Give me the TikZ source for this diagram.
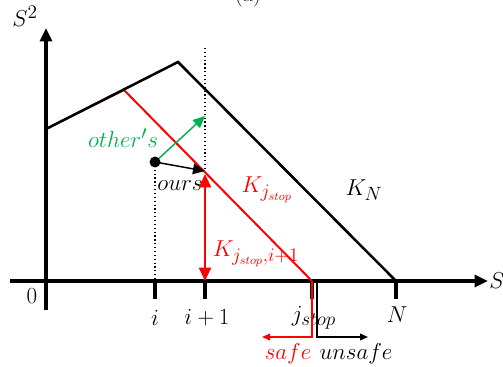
\documentclass[tikz,border=0pt]{standalone}
\usetikzlibrary{arrows.meta}
\definecolor{myred}{RGB}{255,0,0}
\definecolor{mygreen}{RGB}{0,176,80}
\begin{document}
\begin{tikzpicture}[x=0.75pt,y=-0.75pt,
  lbl/.style={font=\fontsize{19}{22}\selectfont, inner sep=1pt},
  axis/.style={line width=2.4pt, -{Triangle[length=10pt,width=9pt]}},
  tick/.style={line width=2.4pt},
  kline/.style={line width=1.9pt, line join=miter},
  rline/.style={myred, line width=1.5pt},
  guide/.style={dotted, line width=0.9pt},
  vec/.style={line width=1.1pt, -{Triangle[length=9pt,width=8pt]}}]
\useasboundingbox (0,0) rectangle (503,367);
% points
\coordinate (O) at (46,281);
\coordinate (Ytop) at (46,28);
\coordinate (Ybot) at (46,310);
\coordinate (Xl) at (10,281);
\coordinate (Xr) at (488,281);
\coordinate (A) at (46,129);
\coordinate (P) at (178,62);
\coordinate (NN) at (396,281);
\coordinate (R) at (124,90);
\coordinate (J) at (312,281);
\coordinate (D) at (155,162);
\coordinate (G) at (205,116);
\coordinate (Q) at (205,171);
\coordinate (Qu) at (205,174);
\coordinate (I) at (155,281);
\coordinate (I1) at (205,281);
\coordinate (Dtop) at (205,48);
% title (cut off as in the reference)
\node[font=\fontsize{17}{20}\selectfont] (title) at (248,-4) {(a)};
% axes
\draw[axis] (Ybot) -- (Ytop);
\draw[axis] (Xl) -- (Xr);
\node[lbl] (s2) at (25,16) {$S^2$};
\node[lbl] (s) at (497,281) {$S$};
\node[lbl] (zero) at (32,296) {$0$};
% ticks
\draw[tick] (I) -- ++(0,18);
\draw[tick] (I1) -- ++(0,18);
\draw[tick] (J) -- ++(0,18);
\draw[tick] (NN) -- ++(0,18);
\node[lbl] (li) at (155,318) {$i$};
\node[lbl] (li1) at (207,318) {$i+1$};
\node[lbl] (lj) at (314,318) {$j_{stop}$};
\node[lbl] (lN) at (397,315) {$N$};
% dotted guides
\draw[guide] (Dtop) -- (I1);
\draw[guide] (D) -- (I);
% curves
\draw[rline] (A) -- (R) -- (J);
\draw[kline] (A) -- (P) -- (NN);
\node[lbl, myred] (kj) at (267,190) {$K_{j_{stop}}$};
\node[lbl] (kn) at (364,190) {$K_N$};
\node[lbl, myred] (kji) at (256,254) {$K_{j_{stop},i+1}$};
% vectors
\draw[vec, mygreen] (D) -- (G);
\draw[vec] (D) -- (Q);
\fill (D) circle (5.5);
\node[lbl, mygreen] (oth) at (123,138) {$other's$};
\node[lbl] (ours) at (180,186) {$ours$};
\draw[myred, line width=1.5pt, {Triangle[length=10pt,width=9pt]}-{Triangle[length=10pt,width=9pt]}] (Qu) -- (I1);
% safe / unsafe
\coordinate (sf1) at (312,337);
\coordinate (sf2) at (262,337);
\coordinate (us0) at (317,282);
\coordinate (us1) at (317,337);
\coordinate (us2) at (368,337);
\draw[myred, line width=1.1pt, -{Triangle[length=6pt,width=5pt]}] (J) -- (sf1) -- (sf2);
\draw[line width=1.1pt, -{Triangle[length=6pt,width=5pt]}] (us0) -- (us1) -- (us2);
\node[lbl, myred] (safe) at (288,354) {$safe$};
\node[lbl] (unsafe) at (356,354) {$unsafe$};
\end{tikzpicture}
\end{document}
